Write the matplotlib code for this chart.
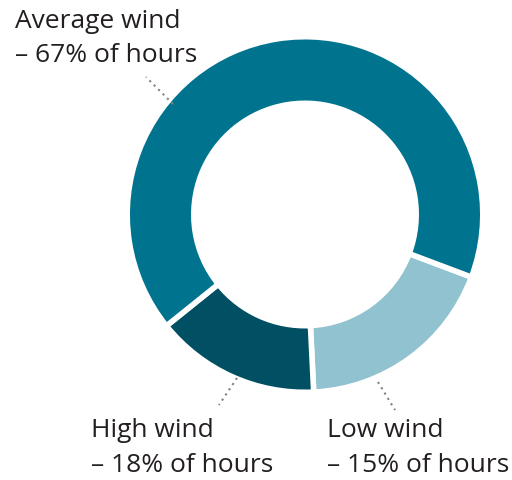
import matplotlib.pyplot as plt

# wedge shares as drawn (clockwise from the right-hand gap)
names = ['Low wind', 'High wind', 'Average wind']
shares = [18.5, 15, 66.5]
colors = ['#90c2cf', '#004f63', '#00748f']

# label texts
labels = ['Low wind\n– 15% of hours', 'High wind\n– 18% of hours', 'Average wind\n– 67% of hours']

plt.rcParams['font.family'] = ['Open Sans', 'DejaVu Sans']

fig = plt.figure(figsize=(5.12, 4.8), dpi=100)
ax = fig.add_axes([0, 0, 1, 1])

H = 480
cx, cy = 305, H - 214.5

ax.pie(shares, colors=colors, startangle=-20.6, counterclock=False,
       center=(cx, cy), radius=177.8, frame=True,
       wedgeprops=dict(width=66.6, edgecolor='white', linewidth=4))

ax.set_xlim(0, 512)
ax.set_ylim(0, H)
ax.set_aspect('equal')
ax.axis('off')

# leader lines (pixel coords, y from top)
leaders = [((378, 382), (395, 410)), ((237, 378), (219, 405)), ((173, 104), (146, 77))]
for (x0, y0), (x1, y1) in leaders:
    ax.plot([x0, x1], [H - y0, H - y1], color='#808080', linestyle=(0, (1, 2)), lw=1.5)

# label positions (left, top)
pos = [(327, 418), (91, 418), (15, 9)]
for lab, (x, y) in zip(labels, pos):
    ax.text(x, H - y, lab, fontsize=19, color='#231f20', ha='left', va='top', linespacing=1.5)

fig.savefig('out.png', dpi=100)
